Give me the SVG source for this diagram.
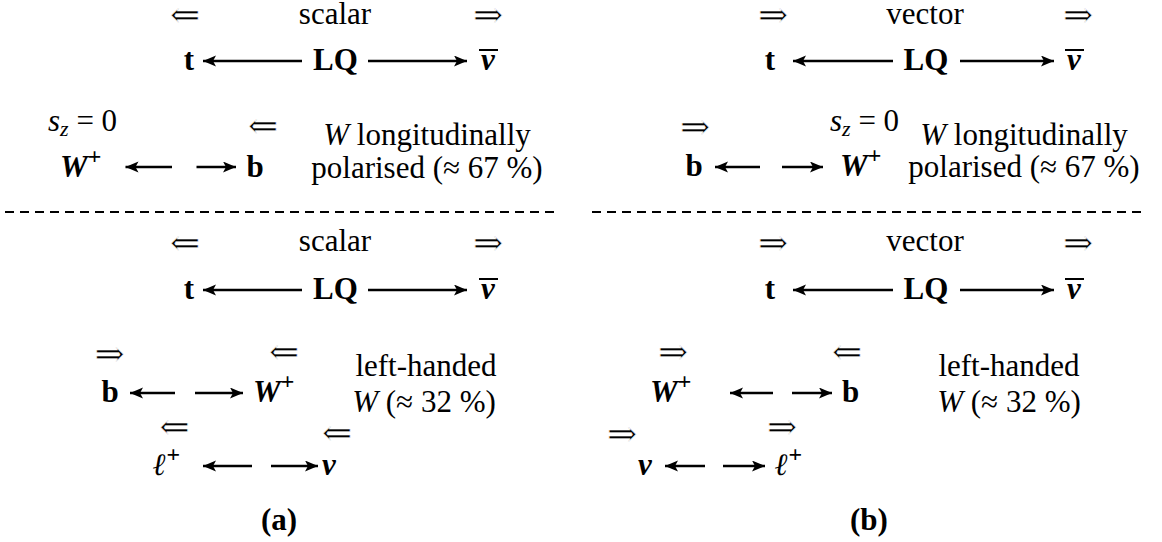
<svg xmlns="http://www.w3.org/2000/svg" width="1162" height="542" viewBox="0 0 1162 542">
<style>
text{font-family:"Liberation Serif","DejaVu Serif",serif;font-size:31px;fill:#000}
.bf{font-weight:bold}
.bi{font-weight:bold;font-style:italic}
.it{font-style:italic}
.m{text-anchor:middle}
.sym{font-family:"DejaVu Serif","Liberation Serif",serif;font-size:36px;text-anchor:middle;stroke:#fff;stroke-width:0.6}
.sup{font-size:24px}
.bar{stroke:#000;stroke-width:2}
.cn line{stroke:#000;stroke-width:2.3;marker-end:url(#ah)}
.dash{stroke:#000;stroke-width:1.8;stroke-dasharray:9 6;fill:none}
</style>
<defs>
<marker id="ah" markerUnits="userSpaceOnUse" markerWidth="15" markerHeight="12" refX="13" refY="5.5" orient="auto">
<path d="M0,0 L13,5.5 L0,11 L3,5.5 Z" fill="#000"/>
</marker>
</defs>
<rect width="1162" height="542" fill="#fff"/>

<!-- ===== Panel (a) upper ===== -->
<g id="a1-spin-t"><text class="sym" x="185" y="27">⇐</text></g>
<g id="a1-label"><text class="m" x="335" y="24">scalar</text></g>
<g id="a1-spin-nu"><text class="sym" x="488" y="27">⇒</text></g>
<g id="a1-t"><text class="bf m" x="189" y="70">t</text></g>
<g id="a1-LQ"><text class="bf m" x="335.5" y="70">LQ</text></g>
<g id="a1-nubar"><text class="bi m" x="488" y="70">ν</text><line class="bar" x1="479" y1="50" x2="498" y2="50"/></g>
<g id="a1-sz"><text x="48" y="131"><tspan class="it">s</tspan><tspan class="it" font-size="22" dy="5">z</tspan><tspan dy="-5"> = 0</tspan></text></g>
<g id="a1-spin-b"><text class="sym" x="263" y="138">⇐</text></g>
<g id="a1-W"><text class="bi" x="60" y="177">W<tspan class="sup" dy="-13">+</tspan></text></g>
<g id="a1-b"><text class="bf m" x="255" y="177">b</text></g>
<g id="a1-note"><text class="m" x="427" y="145"><tspan class="it">W</tspan> longitudinally</text><text class="m" x="427" y="178">polarised (≈ 67 %)</text></g>

<!-- ===== Panel (b) upper ===== -->
<g id="b1-spin-t"><text class="sym" x="773" y="27">⇒</text></g>
<g id="b1-label"><text class="m" x="925" y="24">vector</text></g>
<g id="b1-spin-nu"><text class="sym" x="1078" y="27">⇒</text></g>
<g id="b1-t"><text class="bf m" x="770" y="70">t</text></g>
<g id="b1-LQ"><text class="bf m" x="926" y="70">LQ</text></g>
<g id="b1-nubar"><text class="bi m" x="1074" y="70">ν</text><line class="bar" x1="1065" y1="50" x2="1084" y2="50"/></g>
<g id="b1-spin-b"><text class="sym" x="695" y="139">⇒</text></g>
<g id="b1-sz"><text x="830" y="131"><tspan class="it">s</tspan><tspan class="it" font-size="22" dy="5">z</tspan><tspan dy="-5"> = 0</tspan></text></g>
<g id="b1-b"><text class="bf m" x="694" y="176">b</text></g>
<g id="b1-W"><text class="bi" x="840" y="176">W<tspan class="sup" dy="-13">+</tspan></text></g>
<g id="b1-note"><text class="m" x="1024" y="145"><tspan class="it">W</tspan> longitudinally</text><text class="m" x="1024" y="177">polarised (≈ 67 %)</text></g>

<!-- separators -->
<line class="dash" x1="5" y1="212" x2="555" y2="212"/>
<line class="dash" x1="592" y1="212" x2="1145" y2="212"/>

<!-- ===== Panel (a) lower ===== -->
<g id="a2-spin-t"><text class="sym" x="185" y="255">⇐</text></g>
<g id="a2-label"><text class="m" x="335" y="251">scalar</text></g>
<g id="a2-spin-nu"><text class="sym" x="488" y="255">⇒</text></g>
<g id="a2-t"><text class="bf m" x="189" y="299">t</text></g>
<g id="a2-LQ"><text class="bf m" x="335.5" y="299">LQ</text></g>
<g id="a2-nubar"><text class="bi m" x="488" y="299">ν</text><line class="bar" x1="479" y1="279" x2="498" y2="279"/></g>
<g id="a2-spin-b"><text class="sym" x="109.5" y="366">⇒</text></g>
<g id="a2-spin-W"><text class="sym" x="284" y="364">⇐</text></g>
<g id="a2-b"><text class="bf m" x="110" y="402">b</text></g>
<g id="a2-W"><text class="bi" x="253" y="402">W<tspan class="sup" dy="-13">+</tspan></text></g>
<g id="a2-note"><text class="m" x="426" y="376">left-handed</text><text class="m" x="424" y="412"><tspan class="it">W</tspan> (≈ 32 %)</text></g>
<g id="a2-spin-l"><text class="sym" x="174.5" y="439">⇐</text></g>
<g id="a2-spin-nu2"><text class="sym" x="337" y="445">⇐</text></g>
<g id="a2-l"><text class="bi" x="153" y="475">ℓ<tspan class="sup" dy="-13">+</tspan></text></g>
<g id="a2-nu"><text class="bi" x="322" y="475">ν</text></g>

<!-- ===== Panel (b) lower ===== -->
<g id="b2-spin-t"><text class="sym" x="773" y="255">⇒</text></g>
<g id="b2-label"><text class="m" x="925" y="251">vector</text></g>
<g id="b2-spin-nu"><text class="sym" x="1078" y="255">⇒</text></g>
<g id="b2-t"><text class="bf m" x="770" y="299">t</text></g>
<g id="b2-LQ"><text class="bf m" x="926" y="299">LQ</text></g>
<g id="b2-nubar"><text class="bi m" x="1074" y="299">ν</text><line class="bar" x1="1065" y1="279" x2="1084" y2="279"/></g>
<g id="b2-spin-W"><text class="sym" x="673" y="364">⇒</text></g>
<g id="b2-spin-b"><text class="sym" x="847" y="364">⇐</text></g>
<g id="b2-W"><text class="bi" x="650" y="402">W<tspan class="sup" dy="-13">+</tspan></text></g>
<g id="b2-b"><text class="bf" x="842" y="402">b</text></g>
<g id="b2-note"><text class="m" x="1009" y="376">left-handed</text><text class="m" x="1009" y="412"><tspan class="it">W</tspan> (≈ 32 %)</text></g>
<g id="b2-spin-nu2"><text class="sym" x="622" y="446">⇒</text></g>
<g id="b2-spin-l"><text class="sym" x="782" y="439">⇒</text></g>
<g id="b2-nu"><text class="bi" x="638" y="475">ν</text></g>
<g id="b2-l"><text class="bi" x="775" y="475">ℓ<tspan class="sup" dy="-13">+</tspan></text></g>

<!-- captions -->
<g id="cap-a"><text class="bf m" x="279" y="530">(a)</text></g>
<g id="cap-b"><text class="bf m" x="869" y="530">(b)</text></g>

<!-- connectors -->
<g id="connectors" class="cn">
<line x1="302" y1="61" x2="203" y2="61"/>
<line x1="368" y1="61" x2="467" y2="61"/>
<line x1="172" y1="167" x2="125.5" y2="167"/>
<line x1="196.5" y1="167" x2="236" y2="167"/>
<line x1="893" y1="61" x2="793" y2="61"/>
<line x1="960" y1="61" x2="1054" y2="61"/>
<line x1="760" y1="167" x2="715" y2="167"/>
<line x1="782" y1="167" x2="823" y2="167"/>
<line x1="302" y1="290" x2="203" y2="290"/>
<line x1="368" y1="290" x2="467" y2="290"/>
<line x1="175" y1="393" x2="130" y2="393"/>
<line x1="195" y1="393" x2="243" y2="393"/>
<line x1="252" y1="466" x2="203" y2="466"/>
<line x1="271" y1="466" x2="318" y2="466"/>
<line x1="893" y1="290" x2="793" y2="290"/>
<line x1="960" y1="290" x2="1054" y2="290"/>
<line x1="773" y1="393" x2="730" y2="393"/>
<line x1="792" y1="393" x2="832" y2="393"/>
<line x1="705" y1="466" x2="665" y2="466"/>
<line x1="723" y1="466" x2="765" y2="466"/>
</g>
</svg>
